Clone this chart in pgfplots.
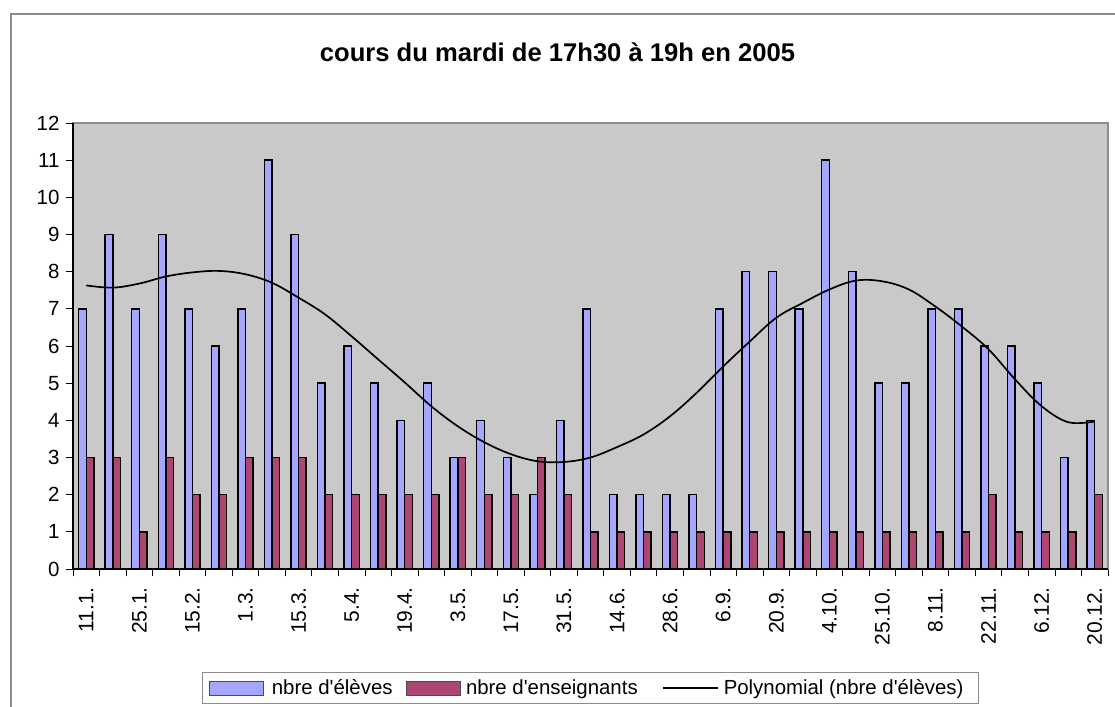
\documentclass[border=0pt]{standalone}
\usepackage{fontspec}
\setmainfont{Liberation Sans}
\usepackage{pgfplots}
\pgfplotsset{compat=1.18}
\usepackage{pgfplotstable}
\definecolor{barblue}{HTML}{A4A6FF}
\definecolor{barred}{HTML}{AD4673}
\definecolor{plotgray}{HTML}{C9C9C9}
\definecolor{framegray}{HTML}{8C8C8C}

\pgfplotstableread{
x e t p
0 7 3 7.63
1 9 3 7.57
2 7 1 7.68
3 9 3 7.87
4 7 2 7.98
5 6 2 8.02
6 7 3 7.93
7 11 3 7.70
8 9 3 7.30
9 5 2 6.85
10 6 2 6.26
11 5 2 5.64
12 4 2 5.02
13 5 2 4.38
14 3 3 3.84
15 4 2 3.41
16 3 2 3.09
17 2 3 2.90
18 4 2 2.88
19 7 1 3.00
20 2 1 3.28
21 2 1 3.62
22 2 1 4.11
23 2 1 4.74
24 7 1 5.45
25 8 1 6.12
26 8 1 6.76
27 7 1 7.16
28 11 1 7.52
29 8 1 7.76
30 5 1 7.74
31 5 1 7.52
32 7 1 7.06
33 7 1 6.52
34 6 2 5.91
35 6 1 5.10
36 5 1 4.38
37 3 1 3.95
38 4 2 3.97
}\data

\begin{document}
\begin{tikzpicture}
\useasboundingbox (-73pt,-137pt) rectangle (1042pt,569pt);
\draw[framegray, line width=1.2pt] (-62pt,-145pt) -- (-62pt,555pt) -- (1050pt,555pt);
\node[font=\bfseries\fontsize{25.6}{29}\selectfont, anchor=base] at (484.5pt,507pt) {cours du mardi de 17h30 à 19h en 2005};
\begin{axis}[
  at={(0pt,0pt)}, anchor=south west,
  width=1035pt, height=446pt, scale only axis,
  xmin=-0.5, xmax=38.5, ymin=0, ymax=12,
  clip=false,
  axis background/.style={fill=plotgray},
  axis line style={draw=framegray, line width=1.2pt},
  xtick={0,2,...,38},
  xticklabels={11.1.,25.1.,15.2.,1.3.,15.3.,5.4.,19.4.,3.5.,17.5.,31.5.,14.6.,28.6.,6.9.,20.9.,4.10.,25.10.,8.11.,22.11.,6.12.,20.12.},
  minor xtick={-0.5,0.5,...,38.5},
  ytick={0,1,...,12},
  tick align=outside,
  tick pos=left,
  major tick length=7pt, minor tick length=7pt,
  major x tick style={draw=none},
  minor x tick style={draw=black, line width=0.8pt},
  major y tick style={draw=black, line width=0.8pt},
  yticklabel style={font=\fontsize{20.5}{23}\selectfont, xshift=-3pt},
  xticklabel style={font=\fontsize{21}{24}\selectfont, rotate=90, anchor=east, inner xsep=11pt},
  /pgf/number format/assume math mode=true,
  legend columns=3,
  legend cell align=left,
  legend style={at={(0.5,-0.2668)}, anchor=center, draw=framegray, line width=1pt, fill=white,
    font=\fontsize{20.4}{23}\selectfont, inner xsep=7pt, inner ysep=5pt,
    /tikz/every even column/.append style={column sep=11pt}},
]
\addplot[ybar, bar width=7.6pt, bar shift=-3.8pt, fill=barblue, draw=black, line width=1.5pt,
  legend image code/.code={\path[draw=none,fill=none] (0pt,-7pt) rectangle (60pt,7pt); \draw[fill=barblue,draw=black!70,line width=0.8pt] (0pt,-7pt) rectangle (54pt,7pt);}]
  table[x=x,y=e]{\data};
\addlegendentry{nbre d\textquotesingle élèves}
\addplot[ybar, bar width=7.6pt, bar shift=3.8pt, fill=barred, draw=black, line width=1.5pt,
  legend image code/.code={\path[draw=none,fill=none] (0pt,-7pt) rectangle (58pt,7pt); \draw[fill=barred,draw=black!70,line width=0.8pt] (0pt,-7pt) rectangle (54pt,7pt);}]
  table[x=x,y=t]{\data};
\addlegendentry{nbre d\textquotesingle enseignants}
\addplot[smooth, tension=0.6, black, line width=1.7pt, mark=none,
  legend image code/.code={\path[draw=none,fill=none] (0pt,-7pt) rectangle (71pt,7pt); \draw[black,line width=1.7pt] (12pt,0pt) -- (67pt,0pt);}]
  table[x=x,y=p]{\data};
\addlegendentry{Polynomial (nbre d\textquotesingle élèves)\hspace*{6pt}}
\draw[black, line width=1.2pt] (rel axis cs:0,1) -- (rel axis cs:0,0) -- (rel axis cs:1,0);
\end{axis}
\end{tikzpicture}
\end{document}
